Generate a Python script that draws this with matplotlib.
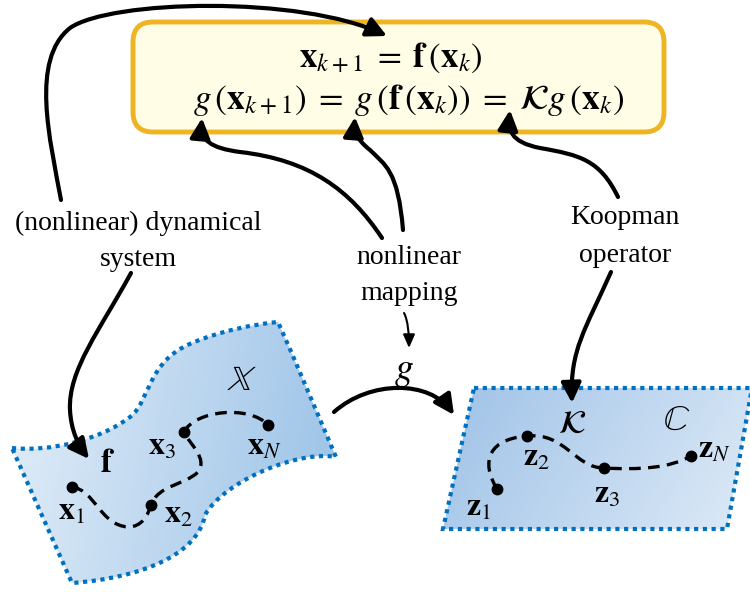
import numpy as np
import matplotlib
matplotlib.use("Agg")
import matplotlib.pyplot as plt
from matplotlib.path import Path
from matplotlib.patches import PathPatch, FancyBboxPatch, FancyArrowPatch, ArrowStyle

plt.rcParams['mathtext.fontset'] = 'stix'
plt.rcParams['font.family'] = ['Liberation Serif', 'DejaVu Serif']

# ---------------- content ----------------
eq_line1 = r'$\mathbf{x}_{k+1}\;=\;\mathbf{f}\,(\mathbf{x}_k)$'
eq_line2 = r'$g\,(\mathbf{x}_{k+1})\;=\;g\,(\mathbf{f}\,(\mathbf{x}_k))\;=\;\mathcal{K}g\,(\mathbf{x}_k)$'
text_labels = ['(nonlinear) dynamical', 'system', 'nonlinear', 'mapping', 'Koopman', 'operator']
text_pos = [(138, 223), (138, 260), (409, 257), (409, 293), (625, 218), (625, 255)]

x_points = [(72, 487), (151, 505), (184, 432), (268, 425)]
x_labels = [r'$\mathbf{x}_1$', r'$\mathbf{x}_2$', r'$\mathbf{x}_3$', r'$\mathbf{x}_N$']
x_label_pos = [(72, 512), (179, 515), (162, 447), (264, 447)]
z_points = [(497, 489), (527, 436), (604, 468), (691, 456)]
z_labels = [r'$\mathbf{z}_1$', r'$\mathbf{z}_2$', r'$\mathbf{z}_3$', r'$\mathbf{z}_N$']
z_label_pos = [(479, 508), (537, 458), (607, 495), (714, 450)]
other_labels = [r'$\mathbf{f}$', r'$\mathbb{X}$', r'$\mathcal{K}$', r'$\mathbb{C}$', r'$g$']
other_pos = [(108, 464), (242, 382), (572, 425), (677, 421), (404, 372)]
other_sizes = [24, 26, 24, 26, 27]

M, C = Path.MOVETO, Path.CURVE4

fig = plt.figure(figsize=(7.5, 5.92), dpi=100)
ax = fig.add_axes([0, 0, 1, 1])
ax.set_xlim(0, 750)
ax.set_ylim(592, 0)
ax.axis('off')

# ---------------- shapes ----------------
def gradient_image(p0, p1, c0, c1):
    yy, xx = np.mgrid[0:592, 0:750]
    d = np.array(p1, float) - np.array(p0, float)
    t = ((xx - p0[0]) * d[0] + (yy - p0[1]) * d[1]) / (d @ d)
    t = np.clip(t, 0, 1)[..., None]
    c0 = np.array(c0) / 255.0
    c1 = np.array(c1) / 255.0
    return c0 * (1 - t) + c1 * t

left_verts = [(12, 448),
              (50, 452), (100, 440), (130, 417),
              (150, 402), (146, 362), (192, 343),
              (220, 331), (255, 324), (278, 322),
              (295, 360), (318, 415), (336, 457),
              (300, 450), (225, 480), (205, 515),
              (198, 555), (140, 578), (72, 583),
              (12, 448)]
left_codes = [M] + [C] * 18 + [Path.LINETO]
left_path = Path(left_verts, left_codes)

right_verts = [(474, 388), (752, 388), (727, 529), (443, 529), (474, 388)]
right_path = Path(right_verts, [M, Path.LINETO, Path.LINETO, Path.LINETO, Path.CLOSEPOLY])

for path, (p0, p1, c0, c1) in [
        (left_path, ((20, 440), (330, 500), (220, 234, 247), (158, 196, 232))),
        (right_path, ((480, 390), (720, 540), (165, 198, 233), (218, 232, 246)))]:
    patch = PathPatch(path, fc='none', ec='none')
    ax.add_patch(patch)
    im = ax.imshow(gradient_image(p0, p1, c0, c1), extent=(0, 750, 592, 0),
                   origin='upper', aspect='auto', zorder=1)
    im.set_clip_path(patch)
    border = PathPatch(path, fc='none', ec='#0070c0', lw=3,
                       linestyle=(0, (1, 1.1)), zorder=2)
    ax.add_patch(border)

ax.set_xlim(0, 750)
ax.set_ylim(592, 0)

# ---------------- yellow box ----------------
box = FancyBboxPatch((133, 22), 531, 110, boxstyle='round,pad=0,rounding_size=20',
                     fc='#fffde6', ec='#eeb422', lw=3.5, zorder=3)
ax.add_patch(box)
ax.text(391, 58, eq_line1, fontsize=25, ha='center', va='center', zorder=4)
ax.text(409, 100, eq_line2, fontsize=25.5, ha='center', va='center', zorder=4)

# ---------------- texts ----------------
for s, (x, y) in zip(text_labels, text_pos):
    ax.text(x, y, s, fontsize=20, ha='center', va='center', zorder=5)

# ---------------- trajectories ----------------
traj_x = [(72, 487), (95, 490), (100, 525), (128, 527),
          (142, 527), (148, 515), (151, 505),
          (158, 485), (185, 485), (198, 472),
          (208, 458), (190, 445), (184, 432),
          (195, 410), (250, 405), (268, 425)]
traj_z = [(497, 489), (485, 470), (480, 440), (527, 436),
          (565, 432), (575, 468), (604, 468),
          (640, 470), (670, 468), (691, 456)]
for verts in (traj_x, traj_z):
    codes = [M] + [C] * (len(verts) - 1)
    ax.add_patch(PathPatch(Path(verts, codes), fc='none', ec='black', lw=2.4,
                           linestyle=(0, (3.5, 2.2)), zorder=6))

for pts in (x_points, z_points):
    ax.plot([p[0] for p in pts], [p[1] for p in pts], 'o', color='black', ms=7.5, zorder=7)

for labs, poss in ((x_labels, x_label_pos), (z_labels, z_label_pos)):
    for s, (x, y) in zip(labs, poss):
        ax.text(x, y, s, fontsize=23, ha='center', va='center', zorder=7)
for s, (x, y), fs in zip(other_labels, other_pos, other_sizes):
    ax.text(x, y, s, fontsize=fs, ha='center', va='center', zorder=7)

# ---------------- arrows ----------------
arrows = [
    [(61, 200), (50, 140), (30, 60), (70, 28), (110, 0), (300, -5), (387, 36)],
    [(382, 238), (350, 190), (310, 160), (240, 152), (210, 148), (200, 140), (202, 118)],
    [(403, 230), (398, 170), (385, 165), (370, 150), (355, 138), (354, 130), (355, 117)],
    [(618, 197), (600, 160), (580, 155), (540, 148), (510, 142), (508, 130), (510, 110)],
    [(131, 273), (100, 330), (68, 370), (70, 410), (71, 430), (78, 445), (89, 459)],
    [(611, 272), (585, 330), (570, 350), (572, 403)],
    [(334, 412), (370, 380), (430, 380), (454, 415)],
]
for verts in arrows:
    codes = [M] + [C] * (len(verts) - 1)
    a = FancyArrowPatch(path=Path(verts, codes),
                        arrowstyle=ArrowStyle('-|>', head_length=12, head_width=6),
                        mutation_scale=1, lw=3, color='black', zorder=8,
                        transform=ax.transData)
    ax.add_patch(a)

small = FancyArrowPatch(path=Path([(404, 313), (408, 320), (409, 335), (409, 348)], [M, C, C, C]),
                        arrowstyle=ArrowStyle('-|>', head_length=8, head_width=3.5),
                        mutation_scale=1, lw=1.5, color='black', zorder=8,
                        transform=ax.transData)
ax.add_patch(small)

fig.savefig('out.png', dpi=100)
